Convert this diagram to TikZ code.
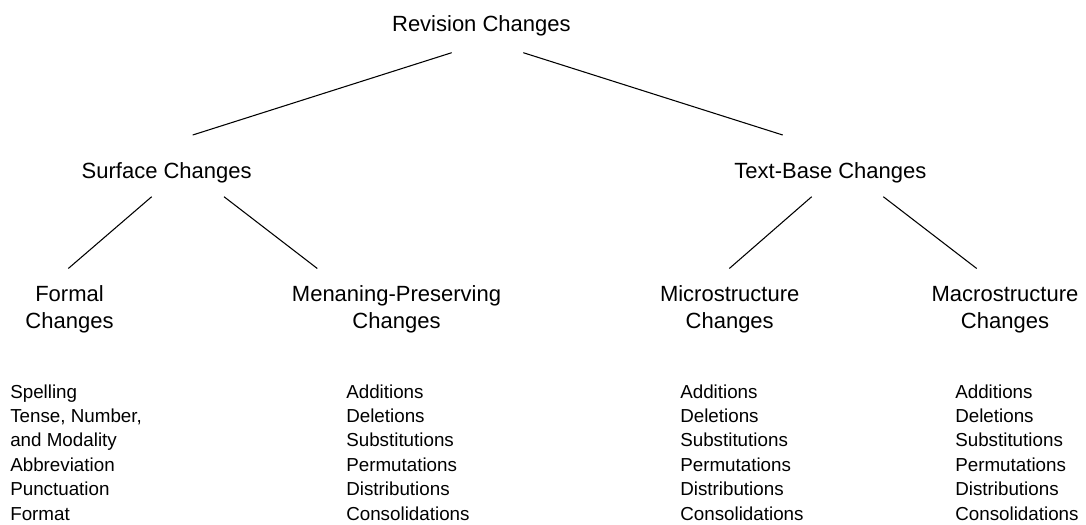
\documentclass[tikz,border=0pt]{standalone}
\usepackage{fontspec}
\setmainfont{Liberation Sans}
\usetikzlibrary{calc}
\begin{document}
\begin{tikzpicture}[x=0.75pt,y=-0.75pt,
  head/.style={font=\fontsize{16.5}{20}\selectfont, inner sep=0pt, anchor=base, align=center},
  items/.style={font=\fontsize{14.1}{18.26}\selectfont, inner sep=0pt, anchor=base west, align=left},
  link/.style={line width=0.8pt, black}]
\useasboundingbox (0,0) rectangle (1086,525);

% tree levels
\node[head] (rev)    at (481.4,31.7)  {Revision Changes};
\node[head] (surf)   at (166.7,178.3) {Surface Changes};
\node[head] (tb)     at (830.4,178.3) {Text-Base Changes};
\node[head] (formal) at (69.5,328.5)  {Formal\\Changes};
\node[head] (mean)   at (396.5,328.5) {Menaning-Preserving\\Changes};
\node[head] (micro)  at (729.7,328.5) {Microstructure\\Changes};
\node[head] (macro)  at (1005,328.5)  {Macrostructure\\Changes};

% lists of change types
\node[items] (formallist) at (10,520)  {Spelling\\Tense, Number,\\and Modality\\Abbreviation\\Punctuation\\Format};
\node[items] (meanlist)   at (346,520) {Additions\\Deletions\\Substitutions\\Permutations\\Distributions\\Consolidations};
\node[items] (microlist)  at (680,520) {Additions\\Deletions\\Substitutions\\Permutations\\Distributions\\Consolidations};
\node[items] (macrolist)  at (955,520) {Additions\\Deletions\\Substitutions\\Permutations\\Distributions\\Consolidations};

% branches
\draw[link] ($(rev.base)+(-29.7,21)$) -- ($(surf.base)+(26,-43.3)$);
\draw[link] ($(rev.base)+(41.9,21)$) -- ($(tb.base)+(-47.7,-43.3)$);
\draw[link] ($(surf.base)+(-15,18.4)$) -- ($(formal.base)+(-1.2,-60)$);
\draw[link] ($(surf.base)+(57.3,18.4)$) -- ($(mean.base)+(-79.2,-60)$);
\draw[link] ($(tb.base)+(-18.7,18.4)$) -- ($(micro.base)+(-0.4,-60)$);
\draw[link] ($(tb.base)+(52.9,18.4)$) -- ($(macro.base)+(-28.3,-60)$);
\end{tikzpicture}
\end{document}
